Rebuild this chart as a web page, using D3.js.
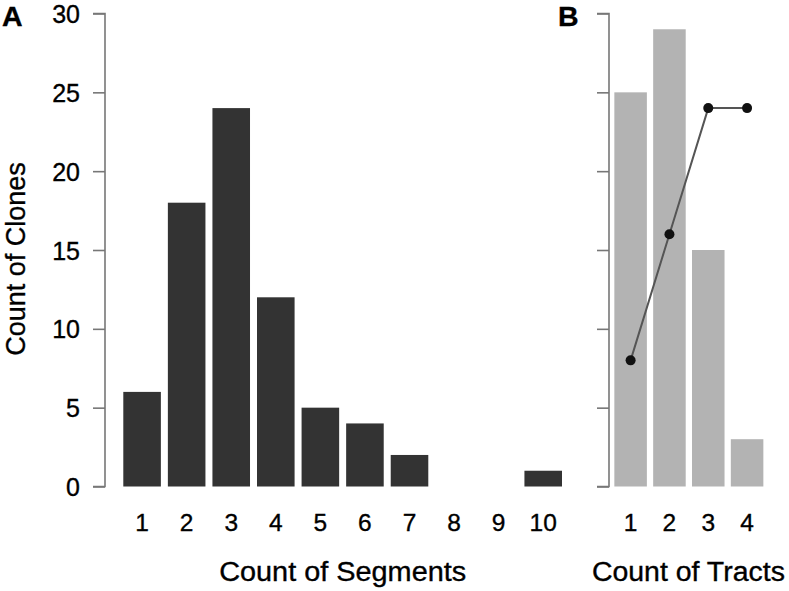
<!DOCTYPE html>
<html>
<head>
<meta charset="utf-8">
<script src="https://cdn.jsdelivr.net/npm/d3@7"></script>
<style>
html,body{margin:0;padding:0;background:#fff;}
svg{display:block;font-family:"Liberation Sans",Arial,Helvetica,sans-serif;}
svg text{fill:#000;stroke:#000;stroke-width:0.35px;}
</style>
</head>
<body>
<svg id="chart" width="789" height="591"></svg>
<script>
const segCategories = ["1","2","3","4","5","6","7","8","9","10"];
const segCounts = [6,18,24,12,5,4,2,0,0,1];
const tractCategories = ["1","2","3","4"];
const tractCounts = [25,29,15,3];
const tractLine = [8,16,24,24];
const yTicks = [0,5,10,15,20,25,30];

const svg = d3.select("#chart");
const y = d3.scaleLinear().domain([0,30]).range([486.5,13.5]);

const axisColor = "#777";
function drawYAxis(x0, labels){
  const ax = d3.axisLeft(y).tickValues(yTicks).tickSize(12).tickPadding(13)
    .tickFormat(labels ? d3.format("d") : () => "");
  const g = svg.append("g").attr("transform", `translate(${x0},0)`).call(ax);
  g.select(".domain").attr("stroke", axisColor).attr("stroke-width", 1.6);
  g.selectAll(".tick line").attr("stroke", axisColor).attr("stroke-width", 1.6);
  g.selectAll(".tick text").attr("font-size", 25)
    .attr("font-family", '"Liberation Sans",Arial,sans-serif').attr("dy", "0.36em");
  g.selectAll(".domain").attr("d", `M-12,${y(30)}H0V${y(0)}H-12`).attr("fill","none");
}

// Panel A
const xA = d3.scaleBand().domain(segCategories).range([119.8,565.5]).paddingInner(0.157).paddingOuter(0.0785);
drawYAxis(105, true);
svg.append("g").selectAll("rect").data(segCounts).join("rect")
  .attr("x", (d,i) => xA(segCategories[i]))
  .attr("width", xA.bandwidth())
  .attr("y", d => y(d))
  .attr("height", d => y(0) - y(d))
  .attr("fill", "#333");
svg.append("g").selectAll("text").data(segCategories).join("text")
  .attr("x", d => xA(d) + xA.bandwidth()/2)
  .attr("y", 531)
  .attr("text-anchor", "middle")
  .attr("font-size", 24.5)
  .text(d => d);
svg.append("text").attr("x", 342.7).attr("y", 581).attr("text-anchor","middle")
  .attr("font-size", 27).attr("textLength", 247).attr("lengthAdjust","spacingAndGlyphs")
  .text("Count of Segments");
svg.append("text").attr("transform","translate(25,259) rotate(-90)").attr("text-anchor","middle")
  .attr("font-size", 27)
  .text("Count of Clones");
svg.append("text").attr("x", 2).attr("y", 26).attr("font-size", 28.5).attr("font-weight","bold").text("A");

// Panel B
const xB = d3.scaleBand().domain(tractCategories).range([611.2,766.5]).paddingInner(0.162).paddingOuter(0.081);
drawYAxis(609, false);
svg.append("g").selectAll("rect").data(tractCounts).join("rect")
  .attr("x", (d,i) => xB(tractCategories[i]))
  .attr("width", xB.bandwidth())
  .attr("y", d => y(d))
  .attr("height", d => y(0) - y(d))
  .attr("fill", "#b3b3b3");
const line = d3.line().x((d,i) => xB(tractCategories[i]) + xB.bandwidth()/2).y(d => y(d));
svg.append("path").datum(tractLine).attr("d", line).attr("fill","none").attr("stroke","#555").attr("stroke-width",2);
svg.append("g").selectAll("circle").data(tractLine).join("circle")
  .attr("cx", (d,i) => xB(tractCategories[i]) + xB.bandwidth()/2)
  .attr("cy", d => y(d))
  .attr("r", 5)
  .attr("fill", "#111");
svg.append("g").selectAll("text").data(tractCategories).join("text")
  .attr("x", d => xB(d) + xB.bandwidth()/2)
  .attr("y", 531)
  .attr("text-anchor", "middle")
  .attr("font-size", 24.5)
  .text(d => d);
svg.append("text").attr("x", 688.4).attr("y", 581).attr("text-anchor","middle")
  .attr("font-size", 27).attr("textLength", 193).attr("lengthAdjust","spacingAndGlyphs")
  .text("Count of Tracts");
svg.append("text").attr("x", 558).attr("y", 26).attr("font-size", 28.5).attr("font-weight","bold").text("B");
</script>
</body>
</html>
